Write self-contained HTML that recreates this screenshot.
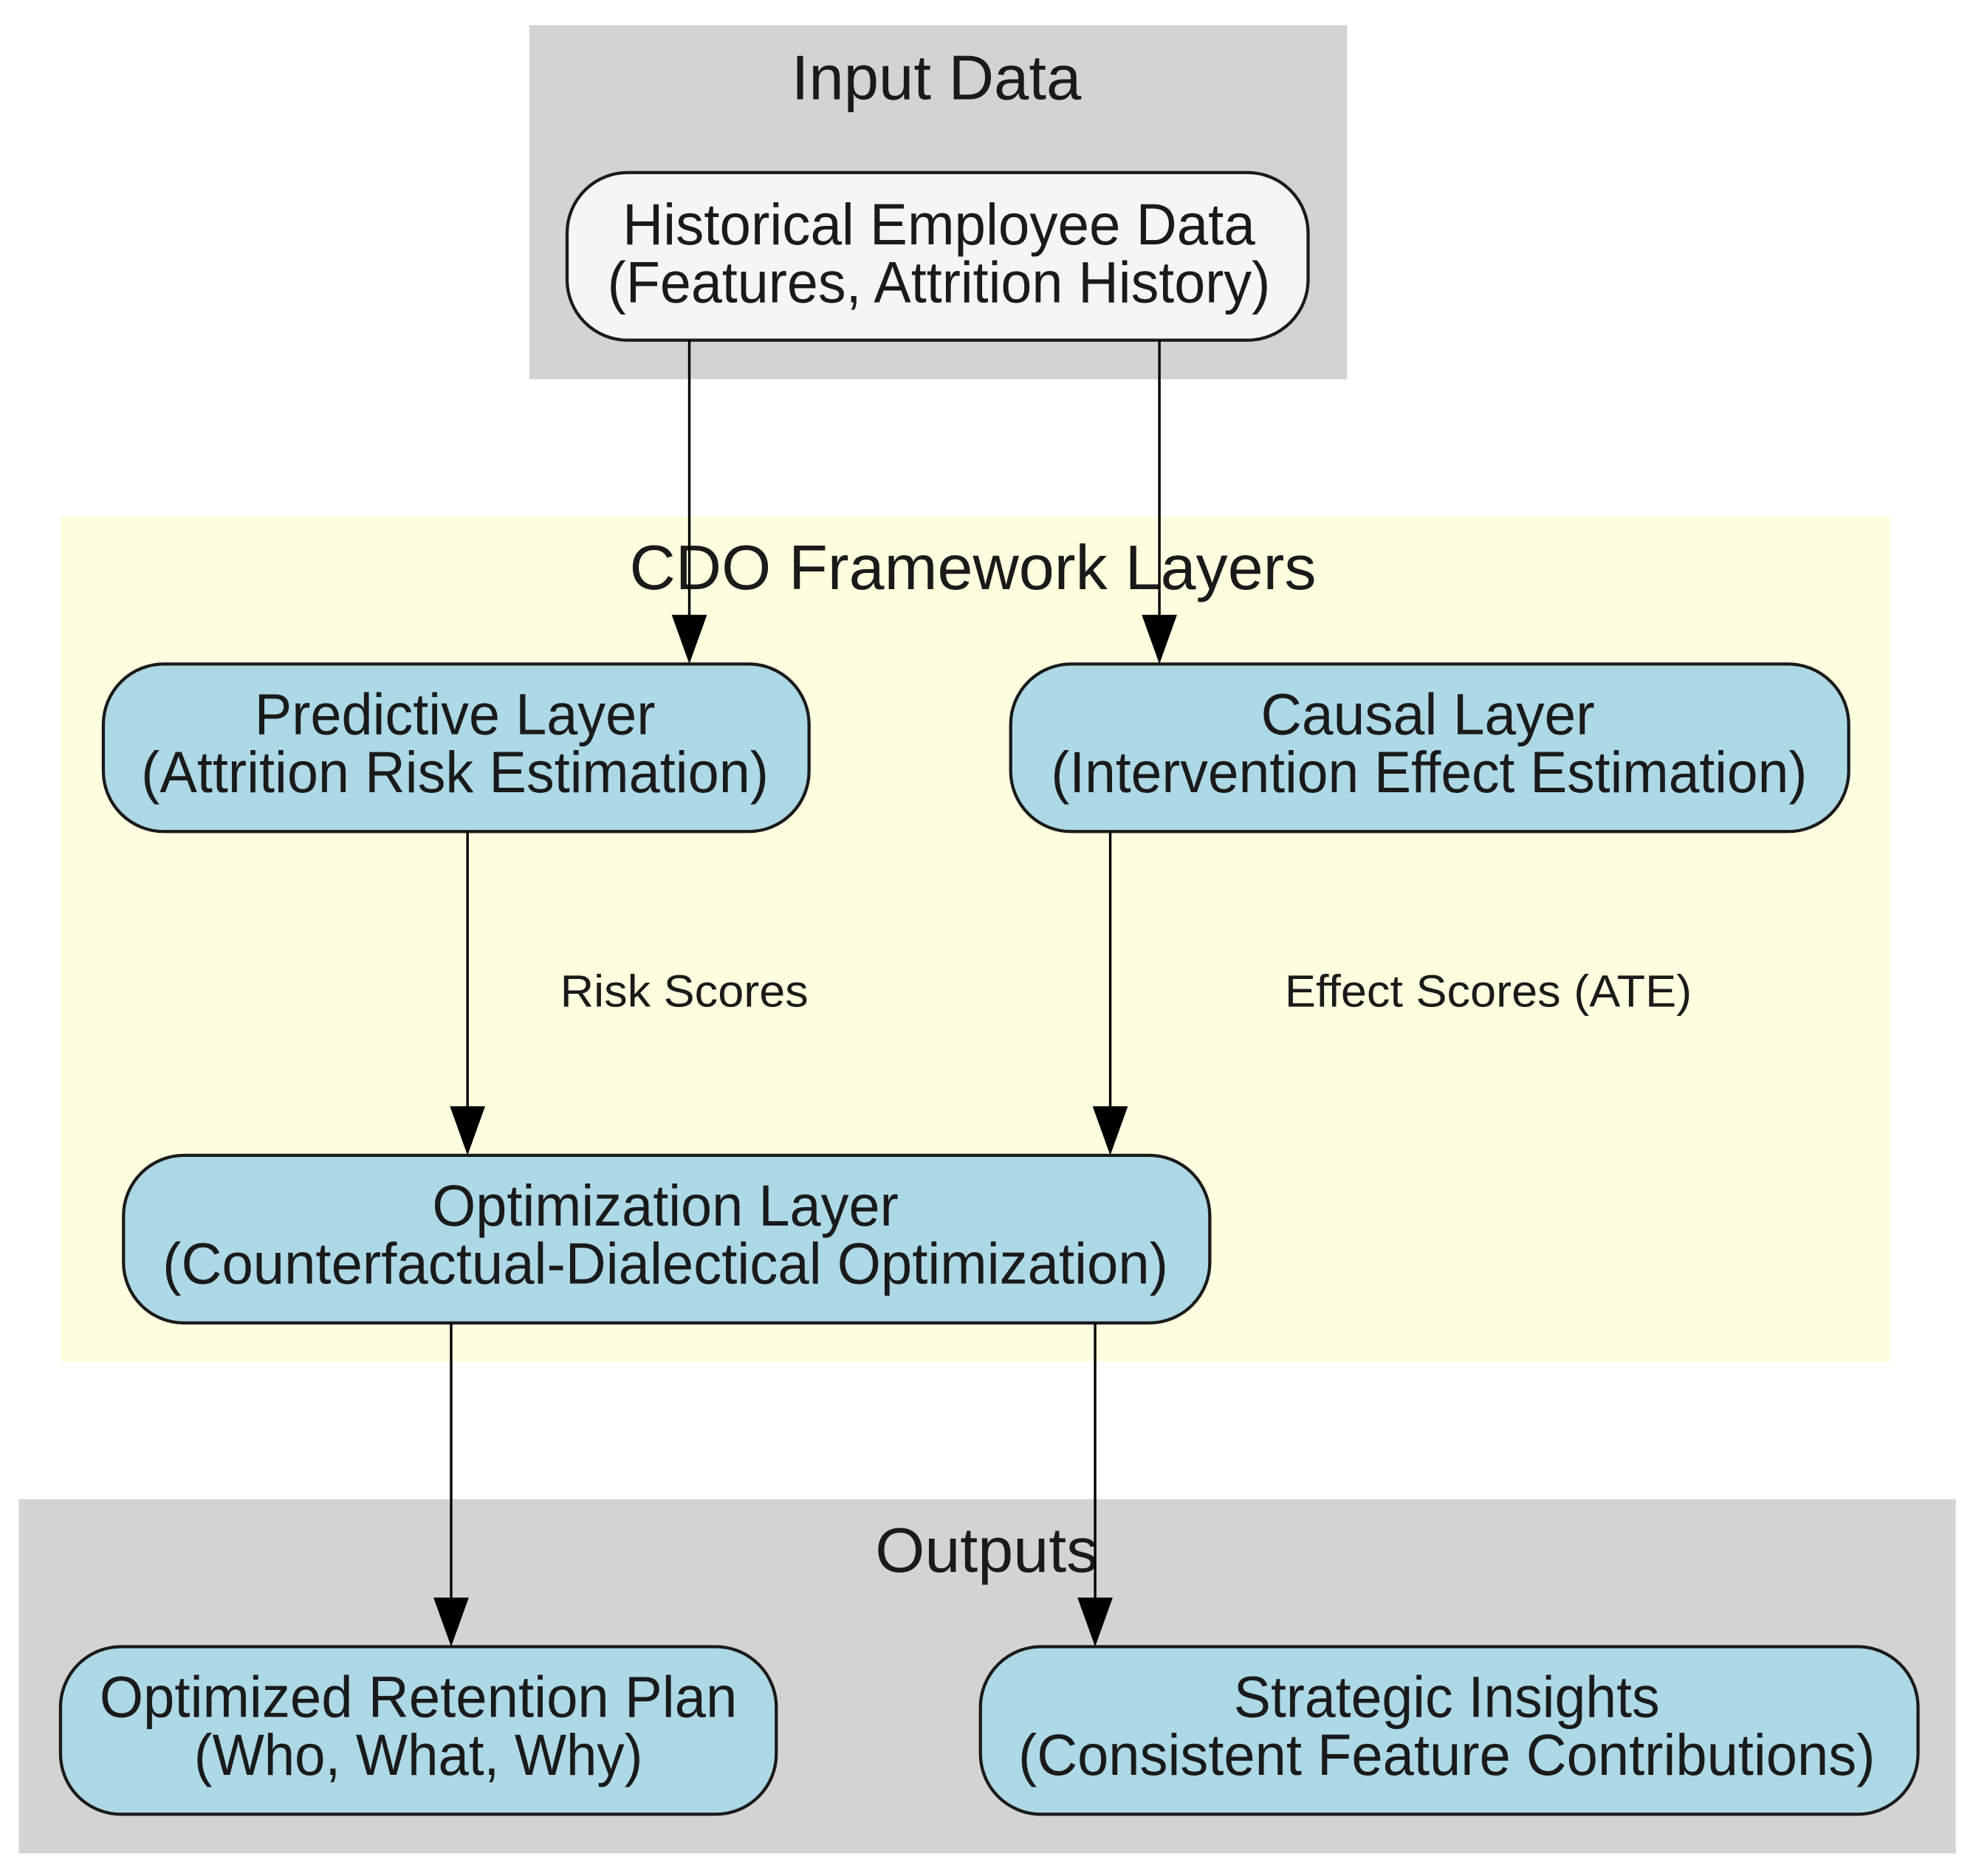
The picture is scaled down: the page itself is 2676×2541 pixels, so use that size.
<!DOCTYPE html>
<html><head><meta charset="utf-8"><style>html,body{margin:0;padding:0;background:#fff}svg{display:block}</style></head>
<body>
<svg width="2676" height="2541" viewBox="0 0 1568 1489" preserveAspectRatio="none" xmlns="http://www.w3.org/2000/svg" font-family="'Liberation Sans', Arial, sans-serif" fill="#000">
<rect x="420" y="20" width="649" height="281" fill="#d3d3d3"/>
<rect x="48" y="410" width="1452" height="671" fill="#ffffe0"/>
<rect x="15" y="1190" width="1537" height="281" fill="#d3d3d3"/>
<g font-size="50" text-anchor="middle" dominant-baseline="central" fill="#1a1a1a">
<text x="743" y="62" textLength="230" lengthAdjust="spacingAndGlyphs">Input Data</text>
<text x="772" y="451" textLength="545" lengthAdjust="spacingAndGlyphs">CDO Framework Layers</text>
<text x="783" y="1231" textLength="177" lengthAdjust="spacingAndGlyphs">Outputs</text>
</g>
<g stroke="#1a1a1a" stroke-width="2.5">
<rect x="450" y="137" width="588" height="133" rx="48" fill="#f5f5f5"/>
<rect x="82" y="527" width="560" height="133" rx="48" fill="#add8e6"/>
<rect x="802" y="527" width="665" height="133" rx="48" fill="#add8e6"/>
<rect x="98" y="917" width="862" height="133" rx="48" fill="#add8e6"/>
<rect x="48" y="1307" width="568" height="133" rx="48" fill="#add8e6"/>
<rect x="778" y="1307" width="744" height="133" rx="48" fill="#add8e6"/>
</g>
<g stroke="#000" stroke-width="2">
<line x1="547" y1="270" x2="547" y2="490"/>
<line x1="920" y1="270" x2="920" y2="490"/>
<line x1="371" y1="660" x2="371" y2="880"/>
<line x1="881" y1="660" x2="881" y2="880"/>
<line x1="358" y1="1050" x2="358" y2="1270"/>
<line x1="869" y1="1050" x2="869" y2="1270"/>
</g>
<g fill="#000">
<polygon points="533,488 561,488 547,527"/>
<polygon points="906,488 934,488 920,527"/>
<polygon points="357,878 385,878 371,917"/>
<polygon points="867,878 895,878 881,917"/>
<polygon points="344,1268 372,1268 358,1307"/>
<polygon points="855,1268 883,1268 869,1307"/>
</g>
<g font-size="46" text-anchor="middle" dominant-baseline="central" fill="#1a1a1a">
<text x="745" y="178" textLength="502" lengthAdjust="spacingAndGlyphs">Historical Employee Data</text>
<text x="745" y="224" textLength="526" lengthAdjust="spacingAndGlyphs">(Features, Attrition History)</text>
<text x="361" y="567" textLength="318" lengthAdjust="spacingAndGlyphs">Predictive Layer</text>
<text x="361" y="613" textLength="498" lengthAdjust="spacingAndGlyphs">(Attrition Risk Estimation)</text>
<text x="1133" y="567" textLength="265" lengthAdjust="spacingAndGlyphs">Causal Layer</text>
<text x="1134" y="613" textLength="600" lengthAdjust="spacingAndGlyphs">(Intervention Effect Estimation)</text>
<text x="528" y="957" textLength="370" lengthAdjust="spacingAndGlyphs">Optimization Layer</text>
<text x="528" y="1003" textLength="798" lengthAdjust="spacingAndGlyphs">(Counterfactual-Dialectical Optimization)</text>
<text x="332" y="1347" textLength="506" lengthAdjust="spacingAndGlyphs">Optimized Retention Plan</text>
<text x="332" y="1393" textLength="356" lengthAdjust="spacingAndGlyphs">(Who, What, Why)</text>
<text x="1148" y="1347" textLength="338" lengthAdjust="spacingAndGlyphs">Strategic Insights</text>
<text x="1148" y="1393" textLength="680" lengthAdjust="spacingAndGlyphs">(Consistent Feature Contributions)</text>
</g>
<g font-size="36" text-anchor="middle" dominant-baseline="central" fill="#1a1a1a">
<text x="543" y="787" textLength="197" lengthAdjust="spacingAndGlyphs">Risk Scores</text>
<text x="1181" y="787" textLength="323" lengthAdjust="spacingAndGlyphs">Effect Scores (ATE)</text>
</g>
</svg>
</body></html>
